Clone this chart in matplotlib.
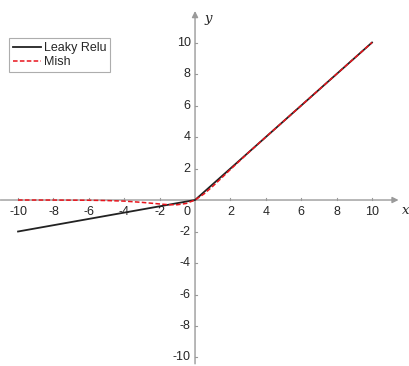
import matplotlib
matplotlib.use("Agg")
import matplotlib.pyplot as plt

# data
leaky_x = [-10, 0, 10]
leaky_y = [-2, 0, 10]

mish_x = [-10, -8, -6, -5, -4, -3, -2.5, -2, -1.5, -1, -0.5, 0, 0.5, 1, 1.5, 2, 3, 4, 6, 8, 10]
mish_y = [0.0, -0.003, -0.015, -0.035, -0.07, -0.15, -0.2, -0.25, -0.3, -0.3, -0.22, 0.0,
          0.38, 0.87, 1.4, 1.94, 2.99, 4.0, 6.0, 8.0, 10.0]

ticks = [-10, -8, -6, -4, -2, 2, 4, 6, 8, 10]

plt.rcParams['font.family'] = ['Liberation Sans', 'DejaVu Sans']

fig = plt.figure(figsize=(4.09, 3.66), dpi=100)
ax = fig.add_axes([0, 0, 1, 1])
ax.set_xlim(-11.02, 12.09)
ax.set_ylim(-10.54, 12.7)

axis_col = '#9a9a9a'
txt_col = '#262626'
for side in ['top', 'right', 'left', 'bottom']:
    ax.spines[side].set_visible(False)

# axes through the origin with arrows
ax.annotate('', xy=(11.5, 0), xytext=(-11.0, 0),
            arrowprops=dict(arrowstyle='-|>', color=axis_col, lw=1, mutation_scale=9,
                            shrinkA=0, shrinkB=0), zorder=1)
ax.annotate('', xy=(0, 12.0), xytext=(0, -10.4),
            arrowprops=dict(arrowstyle='-|>', color=axis_col, lw=1, mutation_scale=9,
                            shrinkA=0, shrinkB=0), zorder=1)

ax.set_xticks([])
ax.set_yticks([])
for t in ticks:
    ax.plot([t, t], [0, 0.12], color=axis_col, lw=0.8)
    ax.text(t, -0.4, str(t), ha='center', va='top', fontsize=9, color=txt_col)
    ax.plot([0, 0.12], [t, t], color=axis_col, lw=0.8)
    ax.text(-0.25, t, str(t), ha='right', va='center', fontsize=9, color=txt_col)
ax.text(-0.25, -0.4, '0', ha='right', va='top', fontsize=9, color=txt_col)

ax.text(11.9, -0.65, 'x', fontsize=9.5, style='italic', family='DejaVu Serif',
        ha='center', va='center', color=txt_col)
ax.text(0.75, 11.5, 'y', fontsize=9.5, style='italic', family='DejaVu Serif',
        ha='center', va='center', color=txt_col)

ax.plot(leaky_x, leaky_y, color='#222222', lw=1.3, label='Leaky Relu', zorder=3)
ax.plot(mish_x, mish_y, color='#e8141c', lw=1.1, ls=(0, (3, 1.5)), label='Mish', zorder=4)

leg = ax.legend(loc='upper left', bbox_to_anchor=(0.022, 0.895), fontsize=9, frameon=True,
                fancybox=False, edgecolor='#999999', borderpad=0.3, handlelength=2.3,
                handletextpad=0.2, labelspacing=0.15, borderaxespad=0)
leg.get_frame().set_linewidth(0.8)
for t in leg.get_texts():
    t.set_color(txt_col)

fig.savefig('out.png', dpi=100)
